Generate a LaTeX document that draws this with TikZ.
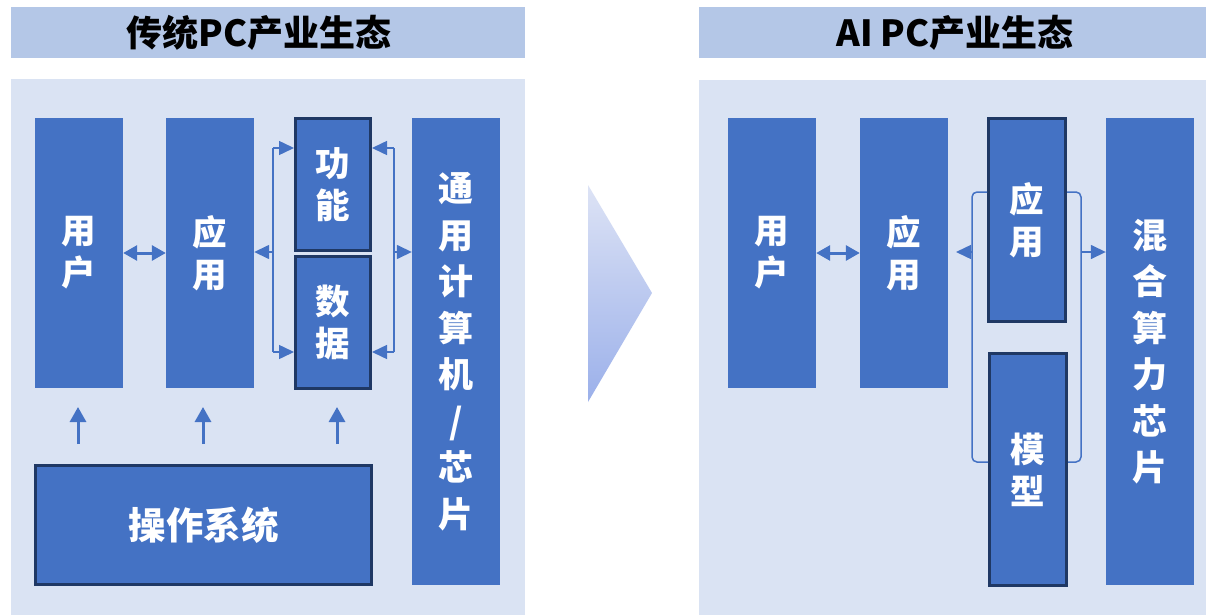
\documentclass[tikz,border=0pt]{standalone}
\usepackage{fontspec}
\setmainfont{Noto Sans CJK SC}
\usetikzlibrary{arrows.meta}
\definecolor{titlebg}{HTML}{B4C7E7}
\definecolor{panelbg}{HTML}{DAE3F3}
\definecolor{boxblue}{HTML}{4472C4}
\definecolor{navy}{HTML}{1F3864}
\definecolor{chevtop}{HTML}{DDE3F5}
\definecolor{chevbot}{HTML}{9BB0EA}
\begin{document}
\begin{tikzpicture}[x=1pt,y=-1pt,
  titletext/.style={font=\bfseries\fontsize{36}{40}\selectfont, text=black, inner sep=0pt},
  blk/.style={fill=boxblue, draw=none, text=white, font=\bfseries\fontsize{34.5}{42}\selectfont, align=center, inner sep=0pt},
  tallblk/.style={blk, font=\bfseries\fontsize{35}{46.5}\selectfont},
  dblk/.style={blk, draw=navy, line width=2.8pt},
  dblarr/.style={draw=boxblue, line width=3pt, {Triangle[length=14pt,width=15pt]}-{Triangle[length=14pt,width=15pt]}},
  arr/.style={draw=boxblue, line width=1.5pt, -{Triangle[length=15pt,width=14pt]}},
  uparr/.style={draw=boxblue, line width=3pt, -{Triangle[length=15pt,width=16pt]}},
  brk/.style={draw=boxblue, line width=1.5pt},
  rbrk/.style={draw=boxblue, line width=1.5pt, rounded corners=5pt}
]
\useasboundingbox (0,0) rectangle (1206,615);
\fill[white] (0,0) rectangle (1206,615);

% title bars and panels
\fill[titlebg] (11,7) rectangle (525,58);
\fill[titlebg] (699,7) rectangle (1206,58);
\fill[panelbg] (11,79) rectangle (525,615);
\fill[panelbg] (699,80) rectangle (1206,615);
\node[titletext] (tl) at (259,33) {传统PC产业生态};
\node[titletext] (tr) at (955,33) {AI PC产业生态};

% chevron
\shade[top color=chevtop, bottom color=chevbot] (588,185) -- (652,293) -- (588,402) -- cycle;

% ---------- left panel ----------
\node[blk, minimum width=88, minimum height=270] (u1) at (79,253) {用\\户};
\node[blk, minimum width=88, minimum height=270] (a1) at (210,253) {应\\用};
\node[dblk, minimum width=75.2, minimum height=132.2] (f1) at (333,184.5) {功\\能};
\node[dblk, minimum width=75.2, minimum height=132.2] (d1) at (333,322.5) {数\\据};
\node[tallblk, minimum width=88, minimum height=467] (g1) at (456,351.5) {通\\用\\计\\算\\机\\/\\芯\\片};
\node[dblk, font=\bfseries\fontsize{37.5}{42}\selectfont, minimum width=336.2, minimum height=119.2] (os) at (203.5,525) {操作系统};

\draw[dblarr] (u1.east) -- (a1.west);

\coordinate (lbt) at (273,148);
\coordinate (lbm) at (273,252);
\coordinate (lbb) at (273,352);
\draw[brk] (lbt) -- (lbb);
\draw[arr] (lbt) -- (lbt -| f1.west);
\draw[arr] (lbb) -- (lbb -| d1.west);
\draw[arr] (lbm) -- (lbm -| a1.east);

\coordinate (rbt) at (394,148);
\coordinate (rbm) at (394,252);
\coordinate (rbb) at (394,352);
\draw[brk] (rbt) -- (rbb);
\draw[arr] (rbt) -- (rbt -| f1.east);
\draw[arr] (rbb) -- (rbb -| d1.east);
\draw[arr] (rbm) -- (rbm -| g1.west);

\coordinate (s1) at (78,444);
\coordinate (e1) at (78,407);
\coordinate (s2) at (203,444);
\coordinate (e2) at (203,407);
\coordinate (s3) at (337,444);
\coordinate (e3) at (337,407);
\draw[uparr] (s1) -- (e1);
\draw[uparr] (s2) -- (e2);
\draw[uparr] (s3) -- (e3);

% ---------- right panel ----------
\node[blk, minimum width=88, minimum height=270] (u2) at (772,253) {用\\户};
\node[blk, minimum width=88, minimum height=270] (a2) at (904,253) {应\\用};
\node[dblk, minimum width=77.2, minimum height=203.2] (a3) at (1027,220) {应\\用};
\node[dblk, minimum width=77.2, minimum height=232.2] (m3) at (1028,469.5) {模\\型};
\node[tallblk, minimum width=88, minimum height=467] (h3) at (1150,351.5) {混\\合\\算\\力\\芯\\片};

\draw[dblarr] (u2.east) -- (a2.west);

\coordinate (ytop) at (0,192);
\coordinate (ybot) at (0,462);
\coordinate (lx) at (972,0);
\coordinate (rx) at (1081,0);
\draw[rbrk] (a3.west |- ytop) -- (lx |- ytop) -- (lx |- ybot) -- (m3.west |- ybot);
\draw[rbrk] (a3.east |- ytop) -- (rx |- ytop) -- (rx |- ybot) -- (m3.east |- ybot);
\coordinate (lam) at (972,252);
\coordinate (ltip) at (956,252);
\coordinate (ram) at (1081,252);
\draw[arr] (lam) -- (ltip);
\draw[arr] (ram) -- (ram -| h3.west);
\end{tikzpicture}
\end{document}
